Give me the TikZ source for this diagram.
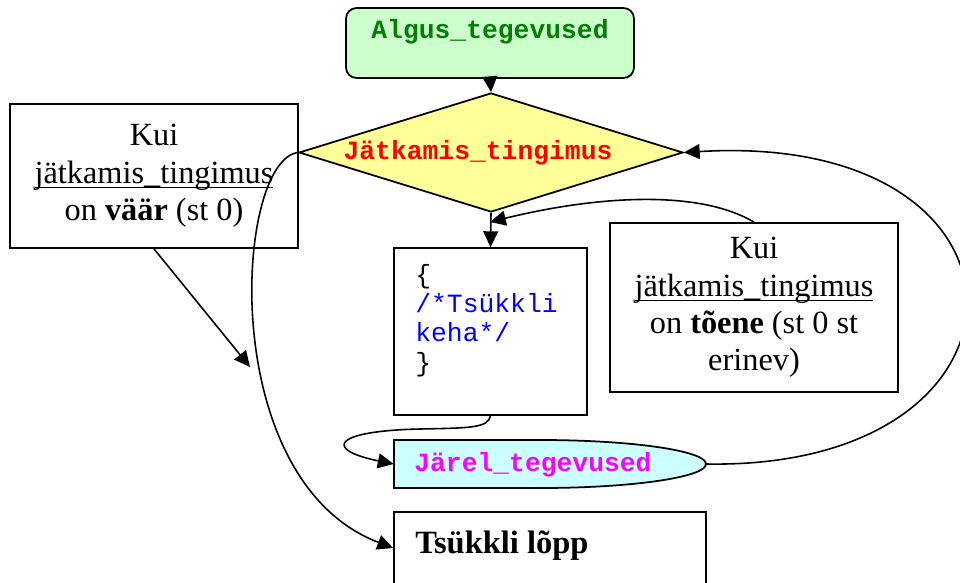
\documentclass[tikz,border=0pt]{standalone}
\usepackage{fontspec}
\setmainfont{Liberation Serif}
\setmonofont{Liberation Mono}
\usetikzlibrary{arrows.meta,shapes.geometric,calc}
\newlength{\pxu}\setlength{\pxu}{0.02cm}
\newcommand{\myul}[1]{\setbox0\hbox{#1}\rlap{\rule[-2.9pt]{\wd0}{0.8pt}}\box0}
\definecolor{algfill}{HTML}{CCFFCC}
\definecolor{condfill}{HTML}{FFFF99}
\definecolor{jarfill}{HTML}{CCFFFF}
\definecolor{dgreen}{HTML}{008000}
\definecolor{cred}{HTML}{FF0000}
\definecolor{cmag}{HTML}{FF00FF}
\definecolor{cblue}{HTML}{0000FF}
\begin{document}
\begin{tikzpicture}[x=0.02cm,y=-0.02cm,
  box/.style={draw,line width=1pt,rectangle,inner sep=0pt},
  serif/.style={font=\fontsize{18.4pt}{21.3pt}\selectfont,align=center},
  conn/.style={line width=0.9pt,-{Triangle[length=9pt,width=8.5pt]}},
  codebold/.style={font=\ttfamily\bfseries\fontsize{15pt}{17pt}\selectfont,inner sep=0pt}
]
\useasboundingbox (0,0) rectangle (960,582);

% start box
\node[box,rounded corners=6pt,fill=algfill,minimum width=288\pxu,minimum height=70\pxu] (algus) at (490,43) {};
\node[codebold,text=dgreen,anchor=base] (algustxt) at (490,38) {Algus\_tegevused};

% condition diamond
\node[draw,line width=1pt,diamond,fill=condfill,minimum width=384\pxu,minimum height=119\pxu,inner sep=0pt] (cond) at (491,152.5) {};
\node[codebold,text=cred,anchor=base] (condtxt) at (478,159) {Jätkamis\_tingimus};

% left note
\node[box,serif,minimum width=288\pxu,minimum height=144\pxu] (lbox) at (154,176)
  {Kui\\\myul{jätkamis\_tingimus}\\on \textbf{väär} (st 0)};

% loop body
\node[box,minimum width=193\pxu,minimum height=167\pxu] (body) at (490.5,331.5) {};
\node[anchor=base west,align=left,inner sep=0pt,font=\ttfamily\fontsize{15pt}{16.6pt}\selectfont] (bodytxt) at (415,371)
  {\{\\\textcolor{cblue}{/*Tsükkli}\\\textcolor{cblue}{keha*/}\\\}};

% right note
\node[box,serif,minimum width=288\pxu,minimum height=169\pxu] (rbox) at (754,307.5)
  {Kui\\\myul{jätkamis\_tingimus}\\on \textbf{tõene} (st 0 st\\erinev)};

% after-actions shape
\node[minimum width=312\pxu,minimum height=48\pxu,inner sep=0pt] (jarel) at (550,464) {};
\draw[line width=1pt,fill=jarfill] (394,440) -- (540,440)
  .. controls (631.7,440) and (706,450.7) .. (706,464)
  .. controls (706,477.3) and (631.7,488) .. (540,488)
  -- (394,488) -- cycle;
\node[codebold,text=cmag,anchor=base west] (jareltxt) at (414,471) {Järel\_tegevused};

% end box
\node[box,minimum width=312\pxu,minimum height=72\pxu] (endbox) at (550,548) {};
\node[font=\bfseries\fontsize{18.5pt}{22pt}\selectfont,anchor=base west,inner sep=0pt] (endtxt) at (415,553) {Tsükkli lõpp};

% connectors
\coordinate (hit) at (250,367);
\coordinate (midv) at (490,222);
\draw[conn] (algus.south) -- (cond.north);
\draw[conn] (cond.south) -- (body.north);
\draw[conn] (lbox.south) -- (hit);
\draw[conn] (cond.west) .. controls (235,160) and (215,480) .. (endbox.west);
\draw[conn] (rbox.north) .. controls (700,190) and (600,195) .. (midv);
\draw[conn] (body.south) .. controls (488,428) and (470,428) .. (420,429)
  .. controls (330,431) and (325,450) .. (jarel.west);
\draw[conn] (jarel.east) .. controls (1055,470) and (1055,130) .. (cond.east);
\end{tikzpicture}
\end{document}
